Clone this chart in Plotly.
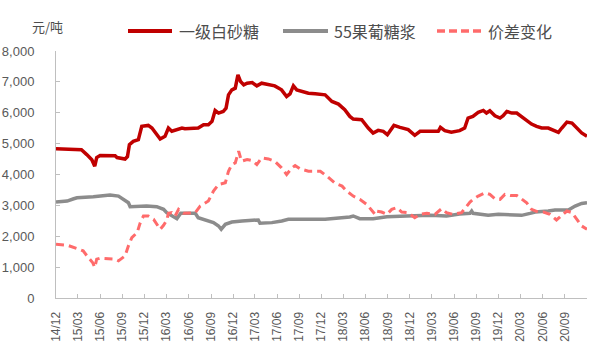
import plotly.graph_objects as go

# ---- data ----
sugar_dates = ["2014-12-01","2015-03-16","2015-04-07","2015-04-28","2015-05-10","2015-05-18","2015-06-01",
    "2015-08-02","2015-08-10","2015-09-12","2015-09-22","2015-09-30","2015-10-16","2015-11-06","2015-11-20",
    "2015-12-17","2016-01-01","2016-01-21","2016-02-04","2016-02-24","2016-03-09","2016-03-23","2016-04-13",
    "2016-05-04","2016-05-16","2016-07-10","2016-08-01","2016-08-21","2016-09-05","2016-09-18","2016-10-02",
    "2016-10-21","2016-11-02","2016-11-12","2016-11-26","2016-12-10","2016-12-21","2017-01-01","2017-01-14",
    "2017-01-28","2017-02-18","2017-03-09","2017-03-29","2017-04-26","2017-05-22","2017-06-19","2017-07-10",
    "2017-07-24","2017-08-07","2017-08-21","2017-09-11","2017-10-08","2017-11-05","2017-12-16","2018-01-13",
    "2018-02-09","2018-03-07","2018-03-28","2018-04-11","2018-05-16","2018-06-12","2018-07-02","2018-07-23",
    "2018-08-13","2018-08-30","2018-09-10","2018-09-26","2018-10-21","2018-11-24","2018-12-21","2019-01-12",
    "2019-02-23","2019-03-28","2019-04-06","2019-04-24","2019-05-21","2019-06-24","2019-07-15","2019-07-29",
    "2019-08-18","2019-09-09","2019-09-30","2019-10-13","2019-10-27","2019-11-17","2019-12-08","2019-12-21",
    "2020-01-05","2020-01-26","2020-02-15","2020-03-06","2020-03-27","2020-04-16","2020-05-07","2020-05-28",
    "2020-06-24","2020-07-08","2020-07-22","2020-08-05","2020-08-19","2020-09-09","2020-09-30","2020-10-19",
    "2020-11-09","2020-12-01"]
sugar_values = [4830,4800,4645,4480,4268,4550,4613,
    4610,4550,4500,4580,4968,5075,5130,5559,
    5590,5505,5290,5150,5237,5505,5400,5450,
    5505,5484,5505,5613,5613,5720,6075,5990,
    6040,6150,6580,6742,6795,7226,7010,6903,
    6957,6978,6870,6957,6903,6870,6742,6527,
    6613,6870,6742,6688,6634,6613,6580,6366,
    6280,6097,5882,5795,5774,5505,5344,5430,
    5398,5290,5398,5591,5527,5452,5268,5398,
    5398,5398,5527,5420,5366,5420,5505,5828,
    5882,6011,6075,5990,6065,5903,5828,5903,
    6043,5990,5990,5882,5774,5634,5559,5505,
    5505,5452,5398,5366,5505,5699,5667,5505,
    5344,5237]

hfcs_dates = ["2014-12-01","2015-01-16","2015-02-12","2015-02-26","2015-05-04","2015-06-14","2015-07-12",
    "2015-08-16","2015-09-06","2015-09-26","2015-10-03","2015-11-01","2015-12-10","2016-01-21","2016-02-18",
    "2016-03-02","2016-03-23","2016-04-13","2016-04-29","2016-06-28","2016-07-10","2016-08-08","2016-09-11",
    "2016-10-02","2016-10-13","2016-10-30","2016-11-26","2017-01-07","2017-03-15","2017-03-22","2017-05-10",
    "2017-06-20","2017-07-17","2017-12-16","2018-01-19","2018-03-28","2018-04-11","2018-05-08","2018-07-02",
    "2018-08-28","2018-11-18","2019-02-23","2019-05-01","2019-06-24","2019-08-06","2019-08-13","2019-08-19",
    "2019-10-20","2019-12-01","2020-03-06","2020-04-10","2020-05-01","2020-06-24","2020-07-22","2020-09-15",
    "2020-10-13","2020-11-09","2020-12-01"]
hfcs_values = [3107,3140,3215,3247,3280,3322,3333,
    3300,3194,3086,2957,2978,2978,2957,2871,
    2763,2677,2570,2742,2742,2602,2516,2441,
    2333,2226,2387,2462,2495,2527,2420,2441,
    2495,2548,2548,2570,2624,2656,2570,2570,
    2634,2656,2677,2656,2720,2742,2817,2742,
    2677,2710,2677,2742,2785,2817,2849,2849,
    2978,3064,3086]

spread_dates = ["2014-12-01","2015-01-16","2015-02-26","2015-03-23","2015-04-13","2015-05-01","2015-05-10",
    "2015-05-18","2015-06-01","2015-08-02","2015-08-16","2015-09-12","2015-09-26","2015-10-10","2015-11-01",
    "2015-11-14","2015-11-27","2015-12-17","2016-01-08","2016-01-21","2016-02-04","2016-02-18","2016-03-02",
    "2016-03-09","2016-03-23","2016-04-06","2016-04-20","2016-05-10","2016-06-28","2016-07-18","2016-08-21",
    "2016-09-11","2016-10-02","2016-10-30","2016-11-12","2016-11-26","2016-12-10","2016-12-24","2017-01-05",
    "2017-01-28","2017-02-18","2017-03-09","2017-03-29","2017-04-26","2017-05-22","2017-06-19","2017-07-10",
    "2017-08-01","2017-08-14","2017-09-04","2017-10-08","2017-11-12","2017-11-26","2017-12-23","2018-01-27",
    "2018-02-24","2018-03-15","2018-04-11","2018-05-08","2018-06-06","2018-06-26","2018-07-10","2018-07-16",
    "2018-08-06","2018-08-28","2018-09-17","2018-10-08","2018-10-28","2018-11-24","2018-12-21","2019-01-12",
    "2019-02-09","2019-03-14","2019-04-11","2019-05-01","2019-05-28","2019-07-02","2019-07-22","2019-08-06",
    "2019-08-19","2019-09-09","2019-10-07","2019-10-27","2019-11-17","2019-12-08","2019-12-28","2020-01-19",
    "2020-02-15","2020-03-06","2020-03-27","2020-04-16","2020-05-13","2020-06-04","2020-07-01","2020-07-28",
    "2020-08-19","2020-09-09","2020-09-30","2020-10-19","2020-11-09","2020-12-01"]
spread_values = [1742,1710,1602,1527,1312,1151,990,
    1258,1290,1258,1204,1365,1688,1957,2118,
    2441,2656,2656,2548,2387,2226,2355,2516,
    2742,2763,2656,2871,2742,2763,2978,3140,
    3462,3677,3731,4107,4322,4376,4753,4430,
    4484,4450,4322,4538,4505,4430,4215,4000,
    4215,4290,4183,4107,4107,4107,3946,3710,
    3624,3462,3301,3194,3032,2849,2710,2817,
    2785,2710,2871,2925,2785,2763,2602,2710,
    2742,2710,2892,2763,2710,2763,2978,3107,
    3194,3301,3409,3355,3215,3194,3355,3322,
    3322,3215,3086,2871,2785,2785,2710,2527,
    2677,2817,2763,2548,2333,2226]

tick_dates = ["2014-12-01","2015-03-01","2015-06-01","2015-09-01","2015-12-01","2016-03-01","2016-06-01",
    "2016-09-01","2016-12-01","2017-03-01","2017-06-01","2017-09-01","2017-12-01","2018-03-01","2018-06-01",
    "2018-09-01","2018-12-01","2019-03-01","2019-06-01","2019-09-01","2019-12-01","2020-03-01","2020-06-01",
    "2020-09-01","2020-12-01"]
tick_labels = ["14/12","15/03","15/06","15/09","15/12","16/03","16/06","16/09","16/12","17/03","17/06",
    "17/09","17/12","18/03","18/06","18/09","18/12","19/03","19/06","19/09","19/12","20/03","20/06",
    "20/09",""]

series_names = ["一级白砂糖", "55果葡糖浆", "价差变化"]
series_colors = ["#C00000", "#8C8C8C", "#FF6B6B"]
unit_label = "元/吨"

CJK = "Noto Sans CJK SC"
NUM = "Liberation Sans"

# plot-area geometry (pixels)
L, R, T, B = 56, 13, 51, 61.5
PW, PH = 600 - L - R, 360 - T - B


def px_x(x):
    return (x - L) / PW


def px_y(y):
    return (360 - B - y) / PH


fig = go.Figure()
fig.add_trace(go.Scatter(x=sugar_dates, y=sugar_values, name=series_names[0], mode="lines",
                         line=dict(color=series_colors[0], width=3.5)))
fig.add_trace(go.Scatter(x=hfcs_dates, y=hfcs_values, name=series_names[1], mode="lines",
                         line=dict(color=series_colors[1], width=3.5)))
fig.add_trace(go.Scatter(x=spread_dates, y=spread_values, name=series_names[2], mode="lines",
                         line=dict(color=series_colors[2], width=3, dash="8px,5px")))

# manual legend
legend_line_x = [(128, 172), (283, 328), (437, 481)]
legend_text_x = [177, 332, 486]
legend_y = 31
shapes = []
annotations = []
for i in range(3):
    x0, x1 = legend_line_x[i]
    shapes.append(dict(type="line", xref="paper", yref="paper", x0=px_x(x0), x1=px_x(x1),
                       y0=px_y(legend_y), y1=px_y(legend_y),
                       line=dict(color=series_colors[i], width=4 if i < 2 else 3.5,
                                 dash="solid" if i < 2 else "8px,4px")))
    annotations.append(dict(text=series_names[i], xref="paper", yref="paper", x=px_x(legend_text_x[i]),
                            y=px_y(legend_y), xanchor="left", yanchor="middle", showarrow=False,
                            font=dict(family=CJK, size=16, color="#4D4D4D")))
annotations.append(dict(text=unit_label, xref="paper", yref="paper", x=px_x(47.5), y=px_y(26),
                        xanchor="center", yanchor="middle", showarrow=False,
                        font=dict(family=CJK, size=13, color="#4D4D4D")))

fig.update_layout(
    width=600, height=360,
    margin=dict(l=L, r=R, t=T, b=B, autoexpand=False),
    paper_bgcolor="white", plot_bgcolor="white",
    showlegend=False,
    xaxis=dict(type="date", range=["2014-12-01", "2020-12-01"], tickmode="array",
               tickvals=tick_dates, ticktext=tick_labels, tickangle=-90,
               tickfont=dict(family=NUM, size=12, color="#595959"),
               showgrid=False, zeroline=False, showline=True, linecolor="#BFBFBF", linewidth=1,
               ticks="inside", ticklen=4, tickcolor="#BFBFBF", ticklabelstandoff=8, automargin=False),
    yaxis=dict(range=[0, 8000], tickmode="linear", tick0=0, dtick=1000, tickformat=",",
               tickfont=dict(family=NUM, size=13, color="#595959"),
               showgrid=False, zeroline=False, showline=True, linecolor="#BFBFBF", linewidth=1,
               ticks="inside", ticklen=4, tickcolor="#BFBFBF", ticklabelstandoff=18, automargin=False),
    shapes=shapes,
    annotations=annotations,
)

fig.write_html("out.html", config={"displayModeBar": False},
               post_script="document.body.style.margin='0';")
